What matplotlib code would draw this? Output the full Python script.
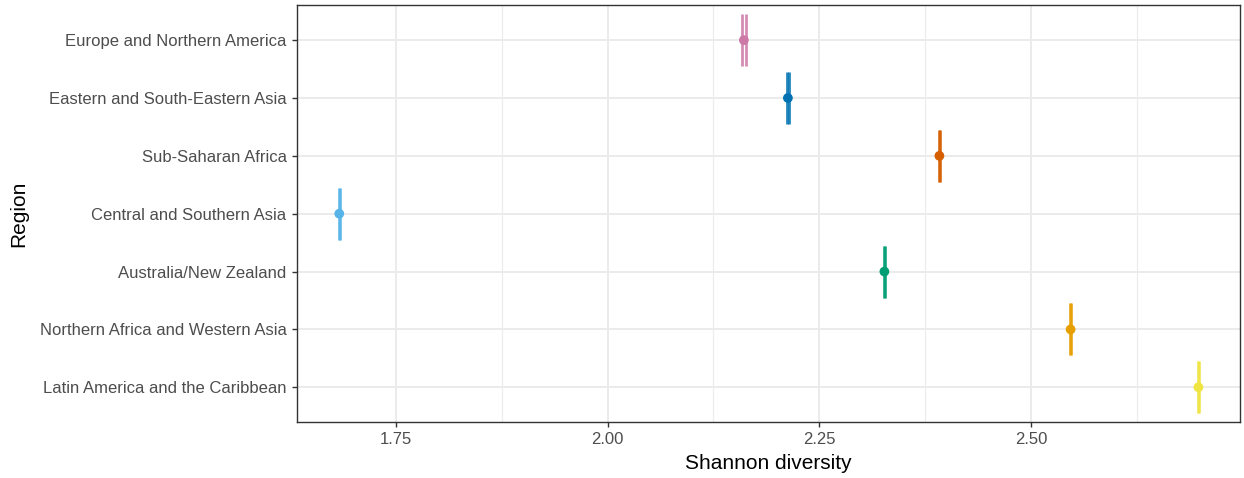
import matplotlib
matplotlib.use("Agg")
import matplotlib.pyplot as plt

# Datos (de abajo hacia arriba)
regiones = [
    "Latin America and the Caribbean",
    "Northern Africa and Western Asia",
    "Australia/New Zealand",
    "Central and Southern Asia",
    "Sub-Saharan Africa",
    "Eastern and South-Eastern Asia",
    "Europe and Northern America",
]
diversidad = [2.698, 2.547, 2.327, 1.683, 2.392, 2.213, 2.161]
ic_bajo = [2.6972, 2.5462, 2.3262, 1.6822, 2.3912, 2.2122, 2.1592]
ic_alto = [2.6988, 2.5478, 2.3278, 1.6838, 2.3928, 2.2138, 2.1630]
colores = ["#F0E442", "#E69F00", "#009E73", "#56B4E9", "#D55E00", "#0072B2", "#CC79A7"]

plt.rcParams["font.family"] = ["Liberation Sans", "DejaVu Sans"]

fig = plt.figure(figsize=(12.44, 4.78), dpi=100)
ax = fig.add_axes([0.2387, 0.1172, 0.758, 0.8715])

# Rejilla estilo theme_bw
for x in [1.75, 2.0, 2.25, 2.5]:
    ax.axvline(x, color="#EBEBEB", lw=1.4, zorder=0)
for x in [1.875, 2.125, 2.375, 2.625]:
    ax.axvline(x, color="#EBEBEB", lw=0.8, zorder=0)
for i in range(len(regiones)):
    ax.axhline(i + 1, color="#EBEBEB", lw=1.4, zorder=0)

# Barras de error horizontales (se ven como lineas verticales)
for i, (lo, hi, c) in enumerate(zip(ic_bajo, ic_alto, colores)):
    y = i + 1
    ax.vlines([lo, hi], y - 0.45, y + 0.45, color=c, lw=2.0, alpha=0.85, zorder=2)
    ax.hlines(y, lo, hi, color=c, lw=2.0, alpha=0.85, zorder=2)

ax.scatter(diversidad, range(1, len(regiones) + 1), c=colores, s=36, zorder=3)

ax.set_xlim(1.633, 2.747)
ax.set_ylim(0.4, len(regiones) + 0.6)
ax.set_xticks([1.75, 2.0, 2.25, 2.5])
ax.set_xticklabels(["1.75", "2.00", "2.25", "2.50"])
ax.set_yticks(range(1, len(regiones) + 1))
ax.set_yticklabels(regiones)
ax.tick_params(colors="#333333", labelcolor="#4D4D4D", labelsize=12, length=3.5, width=1, pad=4)
ax.set_xlabel("Shannon diversity", fontsize=15, labelpad=5)
ax.set_ylabel("Region", fontsize=15, labelpad=8)
for s in ax.spines.values():
    s.set_color("#333333")
    s.set_linewidth(1)

fig.savefig("out.png", dpi=100)
